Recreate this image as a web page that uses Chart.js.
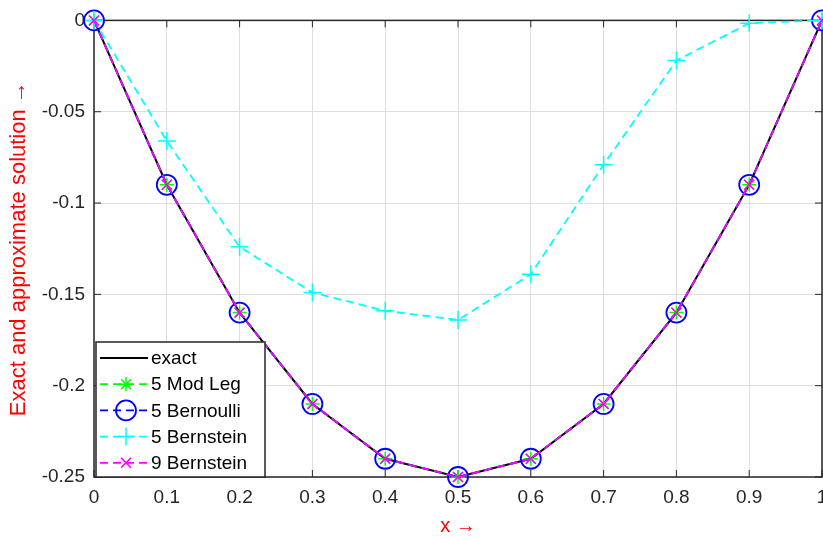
<!DOCTYPE html>
<html>
<head>
<meta charset="utf-8">
<script src="https://cdn.jsdelivr.net/npm/chart.js@4.4.1/dist/chart.umd.min.js"></script>
<style>
html,body{margin:0;padding:0;background:#fff;overflow:hidden}
#caja{width:823px;height:539px;overflow:hidden;position:relative}
</style>
</head>
<body>
<div id="caja"><canvas id="grafico" width="840" height="539" style="width:840px;height:539px"></canvas></div>
<script>
// valores
const xVals      = [0, 0.1, 0.2, 0.3, 0.4, 0.5, 0.6, 0.7, 0.8, 0.9, 1];
const exacta     = [0, -0.09, -0.16, -0.21, -0.24, -0.25, -0.24, -0.21, -0.16, -0.09, 0];
const modLeg5    = [0, -0.09, -0.16, -0.21, -0.24, -0.25, -0.24, -0.21, -0.16, -0.09, 0];
const bernoulli5 = [0, -0.09, -0.16, -0.21, -0.24, -0.25, -0.24, -0.21, -0.16, -0.09, 0];
const bernstein5 = [0, -0.066, -0.124, -0.149, -0.159, -0.164, -0.139, -0.079, -0.022, -0.0015, 0];
const bernstein9 = [0, -0.09, -0.16, -0.21, -0.24, -0.25, -0.24, -0.21, -0.16, -0.09, 0];
const xTicks = [0, 0.1, 0.2, 0.3, 0.4, 0.5, 0.6, 0.7, 0.8, 0.9, 1];
const yTicks = [-0.25, -0.2, -0.15, -0.1, -0.05, 0];
const nombres = ["exact", "5 Mod Leg", "5 Bernoulli", "5 Bernstein", "9 Bernstein"];

const fuente = "'Liberation Sans', Arial, sans-serif";
const gris = "#262626";

function puntos(arr) {
  return xVals.map((x, i) => ({x: x, y: arr[i]}));
}

function marcador(ctx, estilo, x, y, r) {
  ctx.beginPath();
  if (estilo == "circle") {
    ctx.arc(x, y, r, 0, Math.PI * 2);
  }
  if (estilo == "cross" || estilo == "star") {
    ctx.moveTo(x - r, y); ctx.lineTo(x + r, y);
    ctx.moveTo(x, y - r); ctx.lineTo(x, y + r);
  }
  if (estilo == "crossRot" || estilo == "star") {
    let d = r * 0.707;
    ctx.moveTo(x - d, y - d); ctx.lineTo(x + d, y + d);
    ctx.moveTo(x - d, y + d); ctx.lineTo(x + d, y - d);
  }
  ctx.stroke();
}

// marco tipo matlab con marcas hacia dentro
const marco = {
  id: "marco",
  beforeDatasetsDraw(chart) {
    const {ctx, chartArea: a, scales} = chart;
    ctx.save();
    ctx.strokeStyle = gris;
    ctx.lineWidth = 1.5;
    ctx.strokeRect(a.left, a.top, a.right - a.left, a.bottom - a.top);
    ctx.lineWidth = 1;
    ctx.beginPath();
    xTicks.forEach(v => {
      let px = scales.x.getPixelForValue(v);
      ctx.moveTo(px, a.bottom); ctx.lineTo(px, a.bottom - 7);
      ctx.moveTo(px, a.top); ctx.lineTo(px, a.top + 7);
    });
    yTicks.forEach(v => {
      let py = scales.y.getPixelForValue(v);
      ctx.moveTo(a.left, py); ctx.lineTo(a.left + 7, py);
      ctx.moveTo(a.right, py); ctx.lineTo(a.right - 7, py);
    });
    ctx.stroke();
    ctx.restore();
  }
};

// leyenda dentro del grafico, abajo a la izquierda
const leyenda = {
  id: "leyenda",
  afterDatasetsDraw(chart) {
    const {ctx, chartArea: a} = chart;
    const x0 = a.left + 2, y1 = a.bottom, alto = 135, ancho = 169;
    const y0 = y1 - alto;
    ctx.save();
    ctx.fillStyle = "#fff";
    ctx.fillRect(x0, y0, ancho, alto);
    ctx.strokeStyle = gris;
    ctx.lineWidth = 1.5;
    ctx.strokeRect(x0, y0, ancho, alto);
    chart.data.datasets.forEach((ds, i) => {
      let yy = y0 + 16 + i * 26.2;
      ctx.strokeStyle = ds.borderColor;
      ctx.lineWidth = ds.borderWidth;
      ctx.setLineDash(ds.borderDash || []);
      ctx.beginPath();
      ctx.moveTo(x0 + 4, yy); ctx.lineTo(x0 + 52, yy);
      ctx.stroke();
      ctx.setLineDash([]);
      if (ds.pointRadius > 0) {
        ctx.lineWidth = ds.pointBorderWidth;
        marcador(ctx, ds.pointStyle, x0 + 30, yy, ds.pointRadius);
      }
      ctx.fillStyle = "#000";
      ctx.font = "19px " + fuente;
      ctx.textBaseline = "middle";
      ctx.fillText(nombres[i], x0 + 55, yy + 1);
    });
    ctx.restore();
  }
};

let grafico = new Chart(document.getElementById("grafico"), {
  type: "line",
  data: {
    datasets: [
      {label: nombres[0], data: puntos(exacta), borderColor: "#000000", borderWidth: 2,
       pointRadius: 0, order: 5, clip: false},
      {label: nombres[1], data: puntos(modLeg5), borderColor: "#00ff00", borderWidth: 1.8,
       borderDash: [8, 5], pointStyle: "star", pointRadius: 7, pointBorderWidth: 1.5,
       pointBorderColor: "#00ff00", pointBackgroundColor: "rgba(0,0,0,0)", order: 4, clip: false},
      {label: nombres[2], data: puntos(bernoulli5), borderColor: "#0000ff", borderWidth: 1.8,
       borderDash: [8, 5], pointStyle: "circle", pointRadius: 10, pointBorderWidth: 1.8,
       pointBorderColor: "#0000ff", pointBackgroundColor: "rgba(0,0,0,0)", order: 3, clip: false},
      {label: nombres[3], data: puntos(bernstein5), borderColor: "#00ffff", borderWidth: 1.8,
       borderDash: [8, 5], pointStyle: "cross", pointRadius: 9, pointBorderWidth: 1.5,
       pointBorderColor: "#00ffff", pointBackgroundColor: "rgba(0,0,0,0)", order: 2, clip: false},
      {label: nombres[4], data: puntos(bernstein9), borderColor: "#ff00ff", borderWidth: 1.8,
       borderDash: [8, 5], pointStyle: "crossRot", pointRadius: 7, pointBorderWidth: 1.5,
       pointBorderColor: "#ff00ff", pointBackgroundColor: "rgba(0,0,0,0)", order: 1, clip: false}
    ]
  },
  options: {
    responsive: false,
    animation: false,
    events: [],
    layout: {padding: {left: 0, right: 18, top: 19, bottom: 0}},
    plugins: {legend: {display: false}, tooltip: {enabled: false}},
    elements: {line: {tension: 0}},
    scales: {
      x: {
        type: "linear", min: 0, max: 1,
        afterBuildTicks: s => { s.ticks = xTicks.map(v => ({value: v})); },
        afterFit: s => { s.height = 62; },
        grid: {color: "#dedede", lineWidth: 1, drawTicks: false},
        border: {display: false},
        ticks: {color: gris, font: {family: fuente, size: 19}, padding: 9, maxRotation: 0,
                callback: v => String(v)},
        title: {display: true, text: "x \u2192", color: "#ff0000",
                font: {family: fuente, size: 20}, padding: {top: 0, bottom: 1}}
      },
      y: {
        type: "linear", min: -0.25, max: 0,
        afterBuildTicks: s => { s.ticks = yTicks.map(v => ({value: v})); },
        afterFit: s => { s.width = 94; },
        grid: {color: "#dedede", lineWidth: 1, drawTicks: false},
        border: {display: false},
        ticks: {color: gris, font: {family: fuente, size: 19}, padding: 9,
                callback: v => String(v)},
        title: {display: true, text: "Exact and approximate solution \u2192", color: "#ff0000",
                font: {family: fuente, size: 22}, padding: {top: 6, bottom: 0}}
      }
    }
  },
  plugins: [marco, leyenda]
});
</script>
</body>
</html>
